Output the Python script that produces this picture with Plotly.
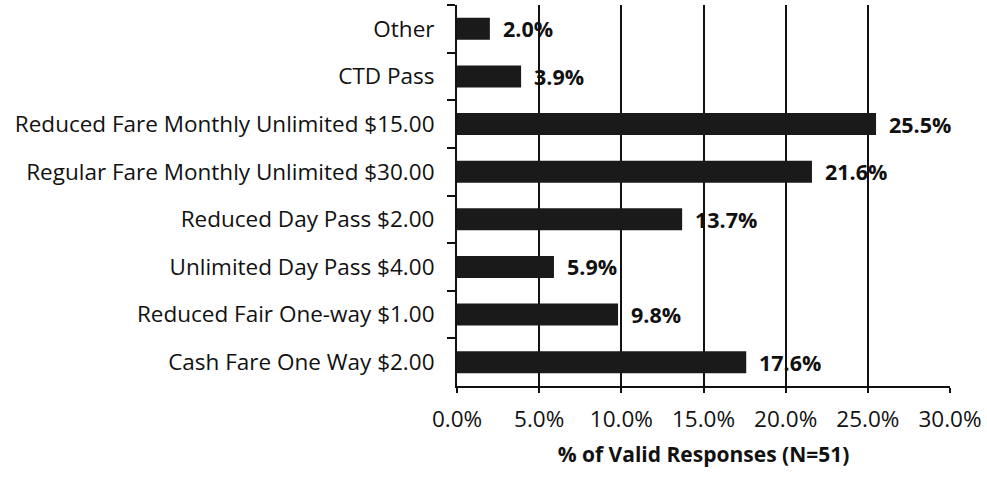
import plotly.graph_objects as go

# Fare type categories, listed top to bottom
categories = [
    "Other",
    "CTD Pass",
    "Reduced Fare Monthly Unlimited $15.00",
    "Regular Fare Monthly Unlimited $30.00",
    "Reduced Day Pass $2.00",
    "Unlimited Day Pass $4.00",
    "Reduced Fair One-way $1.00",
    "Cash Fare One Way $2.00",
]
# Share of valid responses, in percent
values = [2.0, 3.9, 25.5, 21.6, 13.7, 5.9, 9.8, 17.6]
x_ticks = [0, 5, 10, 15, 20, 25, 30]
x_tick_labels = ["0.0%", "5.0%", "10.0%", "15.0%", "20.0%", "25.0%", "30.0%"]

FONT = "Open Sans, Liberation Sans, sans-serif"
INK = "#111111"
FS = 22.5

fig = go.Figure()
fig.add_trace(go.Bar(
    x=values,
    y=categories,
    orientation="h",
    marker=dict(color="#1a1a1a", line=dict(width=0)),
    width=0.46,
    hoverinfo="skip",
))

# Value labels to the right of each bar
for cat, v in zip(categories, values):
    fig.add_annotation(
        x=v, y=cat, xref="x", yref="y",
        text=f"<b>{v:.1f}%</b>",
        showarrow=False, xanchor="left", xshift=11,
        font=dict(family=FONT, size=21.5, color=INK),
    )

fig.update_layout(
    width=987, height=480,
    margin=dict(l=457, r=35, t=5, b=94),
    paper_bgcolor="white", plot_bgcolor="white",
    showlegend=False,
    font=dict(family=FONT, size=FS, color=INK),
)

fig.update_xaxes(
    range=[0, 30],
    tickvals=x_ticks, ticktext=x_tick_labels,
    showgrid=True, gridcolor=INK, gridwidth=2,
    showline=True, linecolor=INK, linewidth=2,
    ticks="outside", ticklen=5, tickwidth=2, tickcolor=INK,
    ticklabelstandoff=7,
    tickfont=dict(family=FONT, size=FS, color=INK),
    zeroline=False,
    title=dict(text="<b>% of Valid Responses (N=51)</b>",
               font=dict(family=FONT, size=21, color=INK),
               standoff=14),
)

fig.update_yaxes(
    autorange="reversed",
    showgrid=False,
    showline=True, linecolor=INK, linewidth=2,
    ticks="outside", ticklen=8, tickwidth=2, tickcolor=INK,
    tickson="boundaries",
    ticklabelstandoff=16,
    tickfont=dict(family=FONT, size=FS, color=INK),
)

fig.write_html("out.html")
